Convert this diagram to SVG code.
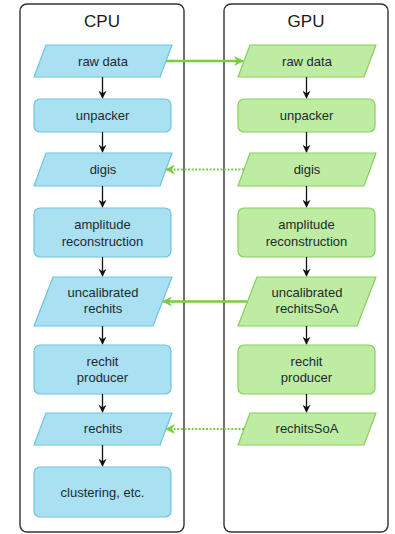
<svg xmlns="http://www.w3.org/2000/svg" width="395" height="534" viewBox="0 0 395 534">
  <style>
    .lane { fill: #ffffff; stroke: #333333; stroke-width: 1.4; }
    .title { font-family: "Liberation Sans", Arial, sans-serif; font-size: 17px; fill: #1a1a1a; text-anchor: middle; }
    .lbl { font-family: "Liberation Sans", Arial, sans-serif; font-size: 13px; fill: #1f2a30; text-anchor: middle; }
    .cpu { fill: #a9e0f2; stroke: #6fc3e3; stroke-width: 1.2; }
    .gpu { fill: #bdeca2; stroke: #86cf5c; stroke-width: 1.2; }
    .flow { stroke: #111111; stroke-width: 1.3; fill: none; }
    .xfer { stroke: #7ccb45; stroke-width: 2.4; fill: none; }
    .xfer-dot { stroke: #7ccb45; stroke-width: 2.2; fill: none; stroke-dasharray: 2 1.6; }
  </style>
  <defs>
    <marker id="blk" viewBox="0 0 10 10" refX="9" refY="5" markerWidth="8" markerHeight="8" markerUnits="userSpaceOnUse" orient="auto">
      <path d="M0,0 L10,5 L0,10 L3,5 Z" fill="#111111"/>
    </marker>
    <marker id="grn" viewBox="0 0 10 10" refX="9" refY="5" markerWidth="10" markerHeight="10" markerUnits="userSpaceOnUse" orient="auto">
      <path d="M0,0 L10,5 L0,10 L3,5 Z" fill="#7ccb45"/>
    </marker>
  </defs>

  <!-- lanes -->
  <g id="lane-cpu">
    <rect class="lane" x="20" y="4" width="164" height="528" rx="7"/>
    <text class="title" x="102" y="27">CPU</text>
  </g>
  <g id="lane-gpu">
    <rect class="lane" x="224" y="4" width="164" height="528" rx="7"/>
    <text class="title" x="306" y="27">GPU</text>
  </g>

  <!-- CPU column -->
  <g id="cpu-raw">
    <polygon class="cpu" points="46,45 172,45 160,77 34,77"/>
    <text class="lbl" x="103" y="66">raw data</text>
  </g>
  <g id="cpu-unpacker">
    <rect class="cpu" x="34" y="99" width="137" height="33" rx="6"/>
    <text class="lbl" x="102.5" y="120">unpacker</text>
  </g>
  <g id="cpu-digis">
    <polygon class="cpu" points="46,153 172,153 160,186 34,186"/>
    <text class="lbl" x="103" y="174">digis</text>
  </g>
  <g id="cpu-amplitude">
    <rect class="cpu" x="34" y="208" width="137" height="49" rx="6"/>
    <text class="lbl" x="102.5" y="229">amplitude</text>
    <text class="lbl" x="102.5" y="246">reconstruction</text>
  </g>
  <g id="cpu-uncalib">
    <polygon class="cpu" points="53,277 172,277 153,326 34,326"/>
    <text class="lbl" x="103" y="297">uncalibrated</text>
    <text class="lbl" x="103" y="313">rechits</text>
  </g>
  <g id="cpu-producer">
    <rect class="cpu" x="34" y="345" width="137" height="49" rx="6"/>
    <text class="lbl" x="102.5" y="366">rechit</text>
    <text class="lbl" x="102.5" y="382">producer</text>
  </g>
  <g id="cpu-rechits">
    <polygon class="cpu" points="46,413 172,413 160,445 34,445"/>
    <text class="lbl" x="103" y="433">rechits</text>
  </g>
  <g id="cpu-clustering">
    <rect class="cpu" x="34" y="467" width="137" height="50" rx="6"/>
    <text class="lbl" x="102.5" y="497">clustering, etc.</text>
  </g>

  <!-- GPU column -->
  <g id="gpu-raw">
    <polygon class="gpu" points="250,45 376,45 364,77 238,77"/>
    <text class="lbl" x="307" y="66">raw data</text>
  </g>
  <g id="gpu-unpacker">
    <rect class="gpu" x="238" y="99" width="137" height="33" rx="6"/>
    <text class="lbl" x="306.5" y="120">unpacker</text>
  </g>
  <g id="gpu-digis">
    <polygon class="gpu" points="250,153 376,153 364,186 238,186"/>
    <text class="lbl" x="307" y="174">digis</text>
  </g>
  <g id="gpu-amplitude">
    <rect class="gpu" x="238" y="208" width="137" height="49" rx="6"/>
    <text class="lbl" x="306.5" y="229">amplitude</text>
    <text class="lbl" x="306.5" y="246">reconstruction</text>
  </g>
  <g id="gpu-uncalib">
    <polygon class="gpu" points="257,277 376,277 357,326 238,326"/>
    <text class="lbl" x="307" y="297">uncalibrated</text>
    <text class="lbl" x="307" y="313">rechitsSoA</text>
  </g>
  <g id="gpu-producer">
    <rect class="gpu" x="238" y="345" width="137" height="49" rx="6"/>
    <text class="lbl" x="306.5" y="366">rechit</text>
    <text class="lbl" x="306.5" y="382">producer</text>
  </g>
  <g id="gpu-rechits">
    <polygon class="gpu" points="250,413 376,413 364,445 238,445"/>
    <text class="lbl" x="307" y="433">rechitsSoA</text>
  </g>

  <!-- connectors -->
  <g id="connectors">
    <line class="flow" x1="102.5" y1="77" x2="102.5" y2="98" marker-end="url(#blk)"/>
    <line class="flow" x1="102.5" y1="132" x2="102.5" y2="152" marker-end="url(#blk)"/>
    <line class="flow" x1="102.5" y1="186" x2="102.5" y2="207" marker-end="url(#blk)"/>
    <line class="flow" x1="102.5" y1="257" x2="102.5" y2="276" marker-end="url(#blk)"/>
    <line class="flow" x1="102.5" y1="326" x2="102.5" y2="344" marker-end="url(#blk)"/>
    <line class="flow" x1="102.5" y1="394" x2="102.5" y2="412" marker-end="url(#blk)"/>
    <line class="flow" x1="102.5" y1="445" x2="102.5" y2="466" marker-end="url(#blk)"/>

    <line class="flow" x1="306.5" y1="77" x2="306.5" y2="98" marker-end="url(#blk)"/>
    <line class="flow" x1="306.5" y1="132" x2="306.5" y2="152" marker-end="url(#blk)"/>
    <line class="flow" x1="306.5" y1="186" x2="306.5" y2="207" marker-end="url(#blk)"/>
    <line class="flow" x1="306.5" y1="257" x2="306.5" y2="276" marker-end="url(#blk)"/>
    <line class="flow" x1="306.5" y1="326" x2="306.5" y2="344" marker-end="url(#blk)"/>
    <line class="flow" x1="306.5" y1="394" x2="306.5" y2="412" marker-end="url(#blk)"/>

    <line class="xfer" x1="166" y1="61" x2="243" y2="61" marker-end="url(#grn)"/>
    <line class="xfer-dot" x1="244" y1="169.5" x2="166" y2="169.5" marker-end="url(#grn)"/>
    <line class="xfer" x1="247" y1="301.5" x2="163" y2="301.5" marker-end="url(#grn)"/>
    <line class="xfer-dot" x1="244" y1="429" x2="166" y2="429" marker-end="url(#grn)"/>
  </g>
</svg>
